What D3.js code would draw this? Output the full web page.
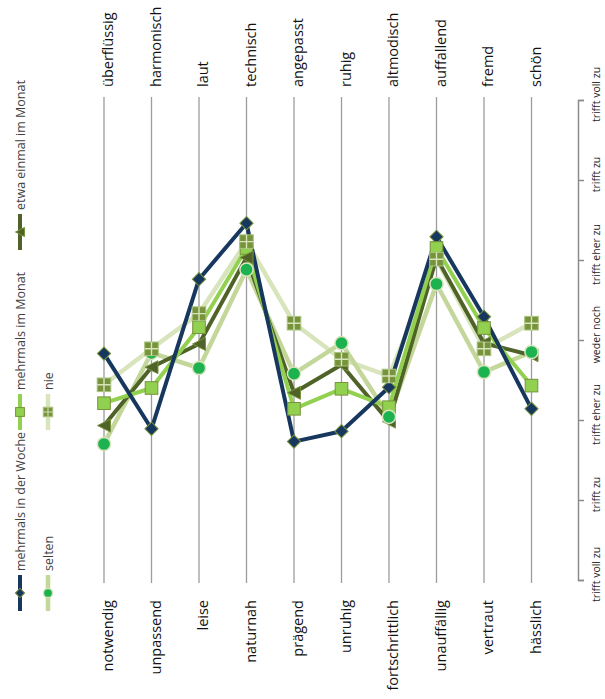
<!DOCTYPE html>
<html>
<head>
<meta charset="utf-8">
<script src="https://cdn.jsdelivr.net/npm/d3@7"></script>
<style>
  html, body { margin: 0; padding: 0; background: #fff; }
  svg { display: block; }
</style>
</head>
<body>
<svg id="chart" width="605" height="699"></svg>
<script>
// ---- data ----
const leftLabels = ["notwendig","unpassend","leise","naturnah","prägend","unruhig","fortschrittlich","unauffällig","vertraut","hässlich"];
const rightLabels = ["überflüssig","harmonisch","laut","technisch","angepasst","ruhig","altmodisch","auffallend","fremd","schön"];
const scaleValues = [1,2,3,4,5,6,7];
const scaleLabels = ["trifft voll zu","trifft zu","trifft eher zu","weder noch","trifft eher zu","trifft zu","trifft voll zu"];
const seriesNames = ["mehrmals in der Woche","mehrmals im Monat","etwa einmal im Monat","selten","nie"];
const woche  = [3.83, 2.89, 4.76, 5.46, 2.73, 2.86, 3.41, 5.29, 4.29, 3.14];
const monat  = [3.21, 3.40, 4.16, 5.15, 3.14, 3.39, 3.16, 5.15, 4.15, 3.43];
const einmal = [2.93, 3.66, 3.95, 5.03, 3.34, 3.69, 2.98, 5.03, 3.96, 3.81];
const selten = [2.70, 3.84, 3.65, 4.88, 3.58, 3.96, 3.04, 4.70, 3.60, 3.85];
const nie    = [3.44, 3.89, 4.33, 5.23, 4.21, 3.76, 3.55, 5.01, 3.89, 4.21];

const seriesValues = [woche, monat, einmal, selten, nie];
const styles = [
  {line:"#17375e", width:4,   marker:"diamond",  fill:"#17375e", stroke:"#77933c"},
  {line:"#92d050", width:4,   marker:"square",   fill:"#92d050", stroke:"#77933c"},
  {line:"#4f6228", width:4,   marker:"triangle", fill:"#4f6228", stroke:"#77933c"},
  {line:"#c4d79b", width:4.5, marker:"circle",   fill:"#1cb24f", stroke:"#d8e4bc"},
  {line:"#d8e4bc", width:4.5, marker:"cross",    fill:"#77933c", stroke:"#a9c47f"}
];

const svg = d3.select("#chart");
const FONT = "'Open Sans', 'DejaVu Sans', sans-serif";

const x = d3.scalePoint().domain(d3.range(leftLabels.length)).range([104, 531.5]);
const y = d3.scaleLinear().domain([1, 7]).range([580, 100]);

// gridlines
svg.append("g").selectAll("line").data(d3.range(leftLabels.length)).join("line")
  .attr("x1", d => x(d)).attr("x2", d => x(d))
  .attr("y1", y(7) - 3).attr("y2", y(1) + 3)
  .attr("stroke", "#9c9c9c").attr("stroke-width", 1.3);

// right axis
const axisG = svg.append("g").attr("transform", "translate(578,0)")
  .call(d3.axisRight(y).tickValues(scaleValues).tickSize(6).tickSizeOuter(6)
        .tickFormat((d, i) => scaleLabels[i]));
axisG.select(".domain").attr("stroke", "#8c8c8c").attr("stroke-width", 1.5);
axisG.selectAll(".tick line").attr("stroke", "#8c8c8c").attr("stroke-width", 1.5);
axisG.selectAll(".tick text")
  .attr("x", null).attr("dy", null)
  .attr("text-anchor", "middle")
  .attr("transform", "translate(22,-6) rotate(-90)")
  .attr("font-family", FONT).attr("font-size", 10.5).attr("fill", "#262626");

// category labels
svg.append("g").selectAll("text").data(rightLabels).join("text")
  .attr("transform", (d, i) => `translate(${x(i) + 9},87) rotate(-90)`)
  .attr("text-anchor", "start")
  .attr("font-family", FONT).attr("font-size", 14.5).attr("fill", "#111")
  .text(d => d);
svg.append("g").selectAll("text").data(leftLabels).join("text")
  .attr("transform", (d, i) => `translate(${x(i) + 9},600) rotate(-90)`)
  .attr("text-anchor", "end")
  .attr("font-family", FONT).attr("font-size", 14.5).attr("fill", "#111")
  .text(d => d);

// marker drawing
function drawMarker(g, type, st, scale) {
  const s = scale || 1;
  if (type === "diamond") {
    g.append("path").attr("d", d3.symbol(d3.symbolSquare, 88 * s * s)())
      .attr("transform", "rotate(45)")
      .attr("fill", st.fill).attr("stroke", st.stroke).attr("stroke-width", 1);
  } else if (type === "square") {
    const h = 6.3 * s;
    g.append("rect").attr("x", -h).attr("y", -h).attr("width", 2 * h).attr("height", 2 * h)
      .attr("fill", st.fill).attr("stroke", st.stroke).attr("stroke-width", 1);
  } else if (type === "triangle") {
    const h = 6.5 * s;
    g.append("path").attr("d", `M${-h},0L${h},${-h}L${h},${h}Z`)
      .attr("fill", st.fill).attr("stroke", st.stroke).attr("stroke-width", 1);
  } else if (type === "circle") {
    g.append("circle").attr("r", 6.6 * s)
      .attr("fill", st.fill).attr("stroke", st.stroke).attr("stroke-width", 1.5);
  } else if (type === "cross") {
    const h = 6.8 * s;
    g.append("rect").attr("x", -h).attr("y", -h).attr("width", 2 * h).attr("height", 2 * h)
      .attr("fill", st.fill).attr("stroke", st.stroke).attr("stroke-width", 1);
    g.append("path").attr("d", `M${-h},0H${h}M0,${-h}V${h}`)
      .attr("stroke", "#d8e4bc").attr("stroke-width", 1.4 * s);
  }
}

// lines (navy last, on top)
const line = d3.line().x((d, i) => x(i)).y(d => y(d));
const lineOrder = [4, 3, 2, 1, 0];
const linesG = svg.append("g");
lineOrder.forEach(k => {
  linesG.append("path").datum(seriesValues[k]).attr("d", line)
    .attr("fill", "none").attr("stroke", styles[k].line)
    .attr("stroke-width", styles[k].width).attr("stroke-linejoin", "round");
});

// markers in series order
const markersG = svg.append("g");
seriesValues.forEach((vals, k) => {
  vals.forEach((v, i) => {
    const g = markersG.append("g").attr("transform", `translate(${x(i)},${y(v)})`);
    drawMarker(g, styles[k].marker, styles[k]);
  });
});

// legend (rotated -90)
const legendPos = [
  {sx: 20, sy: 593}, {sx: 20, sy: 412}, {sx: 20, sy: 232},
  {sx: 48, sy: 593}, {sx: 48, sy: 412}
];
const legendG = svg.append("g");
seriesNames.forEach((name, k) => {
  const p = legendPos[k];
  const g = legendG.append("g").attr("transform", `translate(${p.sx},${p.sy}) rotate(-90)`);
  g.append("line").attr("x1", -18).attr("x2", 18).attr("y1", 0).attr("y2", 0)
    .attr("stroke", styles[k].line).attr("stroke-width", styles[k].width);
  const mg = g.append("g").attr("transform", "rotate(90)");
  drawMarker(mg, styles[k].marker, styles[k], 0.7);
  g.append("text").attr("x", 22).attr("y", 4.5)
    .attr("font-family", FONT).attr("font-size", 12.5).attr("fill", "#404040")
    .text(name);
});
</script>
</body>
</html>
